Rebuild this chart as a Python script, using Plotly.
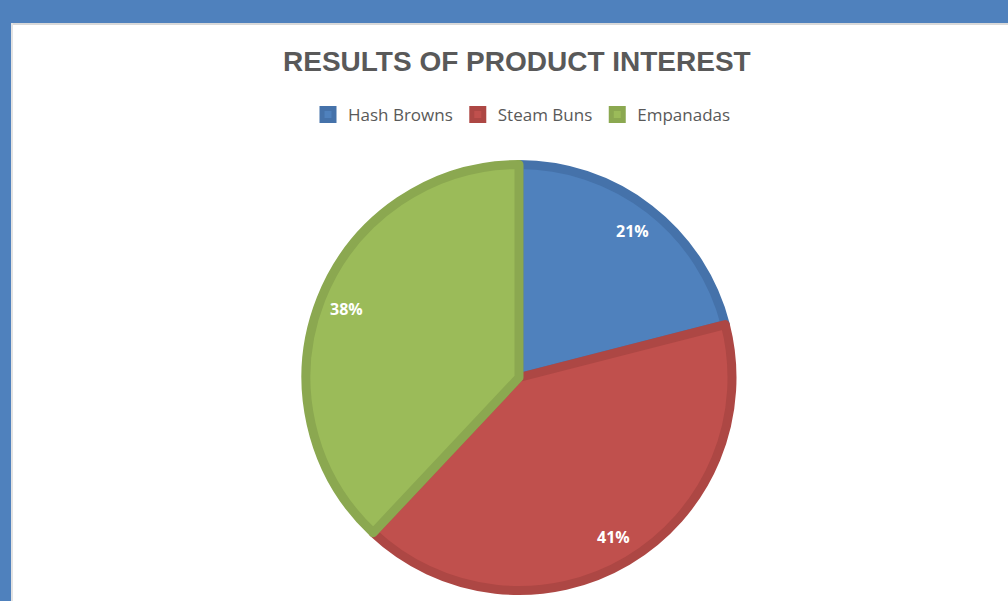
import math
import plotly.graph_objects as go

categories = ["Hash Browns", "Steam Buns", "Empanadas"]
values = [21, 41, 38]
fill_colors = ["#4F81BD", "#C0504D", "#9BBB59"]
edge_colors = ["#4572AA", "#AD4744", "#8BA850"]
title_text = "RESULTS OF PRODUCT INTEREST"

W, H = 1008, 601
cx, cy = 519, 377.5   # pixel centre (from top)
r = 213

fig = go.Figure()
fig.add_trace(go.Pie(
    labels=categories, values=values, sort=False, direction="clockwise", rotation=0,
    marker=dict(colors=fill_colors, line=dict(color=edge_colors, width=9)),
    textinfo="none", hoverinfo="label+percent",
    domain=dict(x=[(cx - r) / W, (cx + r) / W], y=[(H - cy - r) / H, (H - cy + r) / H]),
))

# percentage labels along each slice bisector
total = sum(values)
cum = 0
annotations = []
for v in values:
    mid = (cum + v / 2) / total * 2 * math.pi
    cum += v
    px = cx + 0.87 * r * math.sin(mid)
    py = cy - 0.87 * r * math.cos(mid)
    annotations.append(dict(
        x=px / W, y=1 - py / H, xref="paper", yref="paper", showarrow=False,
        text=f"{round(v / total * 100)}%",
        font=dict(family="Open Sans, Noto Sans, sans-serif", size=16, color="white", weight="bold"),
        xanchor="center", yanchor="middle"))

annotations.append(dict(
    x=517 / W, y=1 - 61 / H, xref="paper", yref="paper", showarrow=False,
    text=f"<b>{title_text}</b>",
    font=dict(family="Liberation Sans, Arial, sans-serif", size=28, color="#595959"),
    xanchor="center", yanchor="middle"))

fig.update_layout(
    width=W, height=H,
    margin=dict(l=0, r=0, t=0, b=0),
    paper_bgcolor="white",
    showlegend=True,
    legend=dict(orientation="h", x=522 / W, xanchor="center", y=1 - 115 / H, yanchor="middle",
                font=dict(family="Open Sans, Noto Sans, sans-serif", size=17, color="#595959"),
                itemwidth=30, traceorder="normal"),
    annotations=annotations,
    shapes=[
        dict(type="rect", xref="paper", yref="paper", x0=0, x1=1, y0=1 - 23 / H, y1=1,
             fillcolor="#4F81BD", line=dict(width=0)),
        dict(type="rect", xref="paper", yref="paper", x0=0, x1=11 / W, y0=0, y1=1,
             fillcolor="#4F81BD", line=dict(width=0)),
        dict(type="line", xref="paper", yref="paper", x0=11 / W, x1=1, y0=1 - 24 / H, y1=1 - 24 / H,
             line=dict(color="#D9D9D9", width=2)),
        dict(type="line", xref="paper", yref="paper", x0=12 / W, x1=12 / W, y0=0, y1=1 - 23 / H,
             line=dict(color="#E3E3E3", width=2)),
    ],
)

fig.write_html("out.html")
